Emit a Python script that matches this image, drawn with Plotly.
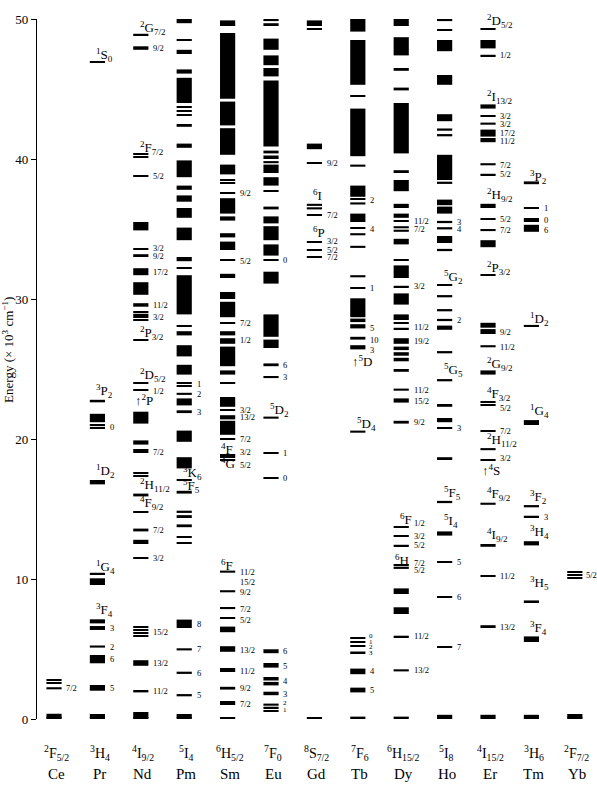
import plotly.graph_objects as go

elements = ["Ce", "Pr", "Nd", "Pm", "Sm", "Eu", "Gd", "Tb", "Dy", "Ho", "Er", "Tm", "Yb"]
ground_terms = ["<sup>2</sup>F<sub>5/2</sub>", "<sup>3</sup>H<sub>4</sub>", "<sup>4</sup>I<sub>9/2</sub>",
                "<sup>5</sup>I<sub>4</sub>", "<sup>6</sup>H<sub>5/2</sub>", "<sup>7</sup>F<sub>0</sub>",
                "<sup>8</sup>S<sub>7/2</sub>", "<sup>7</sup>F<sub>6</sub>", "<sup>6</sup>H<sub>15/2</sub>",
                "<sup>5</sup>I<sub>8</sub>", "<sup>4</sup>I<sub>15/2</sub>", "<sup>3</sup>H<sub>6</sub>",
                "<sup>2</sup>F<sub>7/2</sub>"]
y_ticks = [0, 10, 20, 30, 40, 50]

# energy levels (10^3 cm^-1): bands (low, high) and single sharp levels
ce_bands = [(2.12, 2.27)]
ce_lines = [2.8, 2.6, 0.0, 0.17, 0.33]

pr_bands = [(22.62, 22.8), (21.2, 21.8), (16.76, 17.07), (9.57, 10.05), (6.83, 7.12), (6.36, 6.64),
            (5.1, 5.25), (3.98, 4.57), (2.02, 2.43)]
pr_lines = [46.95, 21.0, 20.82, 10.4, 0.0, 0.14, 0.28]

nd_bands = [(47.8, 48.05), (34.9, 35.5), (33.0, 33.2), (31.7, 32.2), (30.3, 31.2), (29.45, 29.7),
            (21.1, 21.95), (19.6, 19.9), (15.9, 16.1), (13.4, 13.6), (12.5, 12.8), (3.8, 4.2), (1.9, 2.07)]
nd_lines = [48.9, 40.36, 40.17, 38.8, 33.6, 29.1, 28.9, 28.7, 28.5, 27.07, 24.0, 23.5, 19.2, 19.05,
            17.55, 17.35, 14.8, 11.5, 6.55, 6.35, 6.15, 5.95, 0.0, 0.14, 0.28, 0.42]

pm_bands = [(49.7, 50.0), (47.5, 47.8), (46.1, 46.4), (44.0, 45.8), (42.3, 42.5), (40.8, 41.1),
            (38.7, 39.9), (37.8, 38.1), (36.95, 37.4), (35.8, 36.5), (34.2, 35.1), (32.7, 33.0),
            (28.9, 31.7), (27.4, 27.7), (25.9, 26.7), (24.6, 25.3), (23.15, 23.3), (22.4, 22.9),
            (21.85, 22.05), (19.8, 20.6), (17.9, 18.7), (16.1, 16.3), (14.72, 14.88), (14.42, 14.56),
            (13.7, 13.9), (12.93, 13.07), (6.5, 7.1), (4.9, 5.05), (3.22, 3.38), (1.62, 1.78)]
pm_lines = [48.5, 43.7, 43.45, 43.15, 32.2, 28.1, 24.0, 23.8, 17.07, 12.55, 0.0, 0.14, 0.28]

sm_bands = [(49.5, 49.9), (44.3, 49.0), (42.4, 44.1), (40.3, 42.2), (38.9, 39.6), (36.1, 37.2),
            (35.6, 35.9), (34.4, 34.7), (33.5, 34.1), (31.5, 31.8), (30.0, 30.5), (28.7, 29.8),
            (27.4, 27.7), (26.8, 27.2), (25.2, 26.6), (24.6, 24.9), (22.3, 23.0), (21.4, 21.7),
            (20.3, 21.3), (10.45, 10.6), (9.05, 9.2), (7.85, 8.0), (6.2, 6.6), (4.8, 5.2), (2.1, 2.3)]
sm_lines = [38.5, 38.3, 37.6, 32.8, 28.3, 24.0, 22.07, 20.0, 18.86, 18.69, 18.5, 7.2, 3.6, 3.42,
            1.24, 1.05, 0.0]

eu_bands = [(49.85, 50.0), (49.5, 49.7), (47.8, 48.6), (46.7, 47.4), (45.9, 46.5), (40.9, 45.6),
            (40.4, 40.6), (40.0, 40.25), (39.7, 39.85), (39.0, 39.6), (38.1, 38.7), (36.4, 36.6),
            (35.4, 35.9), (34.2, 35.2), (33.1, 33.9), (31.1, 31.95), (27.3, 28.9), (26.5, 27.1),
            (25.2, 25.4), (24.35, 24.5), (21.45, 21.6), (4.7, 4.98), (3.67, 4.0), (2.75, 3.0),
            (2.4, 2.65), (1.7, 1.95), (0.95, 1.1)]
eu_lines = [37.7, 32.8, 19.0, 17.2, 0.83, 0.6]

gd_bands = [(49.5, 49.9), (40.7, 41.1), (36.65, 36.8), (36.4, 36.55)]
gd_lines = [49.3, 39.7, 36.0, 34.1, 33.5, 33.0, 0.0]

tb_bands = [(49.1, 50.0), (45.3, 48.5), (40.2, 43.6), (39.45, 39.6), (37.3, 38.1), (36.75, 36.9),
            (35.5, 36.1), (34.55, 34.7), (33.65, 33.8), (31.55, 31.7), (28.7, 30.05), (28.35, 28.6),
            (27.9, 28.2), (27.1, 27.3), (26.4, 26.7), (20.45, 20.6), (4.68, 4.82), (3.2, 3.6),
            (1.9, 2.24), (0.0, 0.17)]
tb_lines = [44.5, 37.15, 35.05, 30.8, 5.8, 5.5, 5.2]

dy_bands = [(49.5, 50.0), (47.4, 48.7), (46.3, 46.5), (44.9, 45.1), (40.4, 44.0), (39.0, 39.2),
            (37.7, 38.5), (36.5, 36.8), (35.8, 36.1), (35.05, 35.2), (34.8, 34.95), (33.9, 34.3),
            (31.5, 32.4), (29.6, 30.4), (28.5, 28.9), (26.8, 27.2), (26.35, 26.6), (25.95, 26.2),
            (25.55, 25.8), (24.8, 25.0), (23.45, 23.6), (22.6, 22.9), (21.1, 21.3), (10.72, 10.88),
            (8.93, 9.33), (7.5, 7.98), (5.82, 5.95), (3.4, 3.55), (0.0, 0.17)]
dy_lines = [35.6, 32.8, 30.9, 28.3, 27.9, 13.7, 13.1, 12.4, 11.0]

ho_bands = [(49.85, 50.0), (47.7, 48.5), (45.3, 46.0), (42.7, 43.2), (42.02, 42.18), (41.62, 41.78),
            (38.5, 40.3), (38.22, 38.38), (36.7, 37.1), (36.1, 36.6), (35.42, 35.58), (34.97, 35.13),
            (34.0, 34.5), (33.42, 33.58), (30.12, 30.28), (29.12, 29.28), (28.42, 28.58), (27.8, 28.1),
            (26.12, 26.28), (24.12, 24.28), (22.3, 22.5), (21.2, 21.5), (18.5, 18.7), (15.42, 15.58),
            (13.1, 13.4), (0.0, 0.3)]
ho_lines = [49.2, 31.0, 20.8, 11.2, 8.7, 5.17]

er_bands = [(47.9, 48.5), (43.6, 43.9), (42.45, 42.6), (41.6, 42.1), (41.2, 41.5), (39.55, 39.7),
            (36.5, 36.8), (34.85, 35.0), (33.7, 34.2), (27.95, 28.3), (27.5, 27.85), (26.55, 26.7),
            (24.6, 24.9), (19.2, 19.35), (15.3, 15.45), (12.3, 12.5), (6.5, 6.7), (0.0, 0.3)]
er_lines = [49.3, 47.4, 43.1, 38.9, 35.7, 31.7, 22.67, 22.43, 20.6, 18.5, 10.2]

tm_bands = [(38.2, 38.4), (34.8, 35.3), (28.0, 28.15), (21.0, 21.35), (15.12, 15.28), (14.38, 14.52),
            (12.4, 12.7), (8.33, 8.47), (5.5, 5.9), (0.0, 0.3)]
tm_lines = [36.5, 35.72, 35.56]

yb_bands = []
yb_lines = [10.5, 10.3, 10.1, 0.0, 0.15, 0.3]

all_bands = [ce_bands, pr_bands, nd_bands, pm_bands, sm_bands, eu_bands, gd_bands, tb_bands,
             dy_bands, ho_bands, er_bands, tm_bands, yb_bands]
all_lines = [ce_lines, pr_lines, nd_lines, pm_lines, sm_lines, eu_lines, gd_lines, tb_lines,
             dy_lines, ho_lines, er_lines, tm_lines, yb_lines]

# term labels sitting above a level: (element index, energy, text)
term_above = [
    (1, 46.8, "<sup>1</sup>S<sub>0</sub>"), (1, 22.8, "<sup>3</sup>P<sub>2</sub>"),
    (1, 17.07, "<sup>1</sup>D<sub>2</sub>"), (1, 10.2, "<sup>1</sup>G<sub>4</sub>"),
    (1, 7.12, "<sup>3</sup>F<sub>4</sub>"),
    (2, 48.75, "<sup>2</sup>G<sub>7/2</sub>"), (2, 40.15, "<sup>2</sup>F<sub>7/2</sub>"),
    (2, 26.95, "<sup>2</sup>P<sub>3/2</sub>"), (2, 23.9, "<sup>2</sup>D<sub>5/2</sub>"),
    (2, 16.1, "<sup>2</sup>H<sub>11/2</sub>"), (2, 14.8, "<sup>4</sup>F<sub>9/2</sub>"),
    (3, 16.95, "<sup>3</sup>K<sub>6</sub>"), (3, 16.0, "<sup>5</sup>F<sub>5</sub>"),
    (5, 21.4, "<sup>5</sup>D<sub>2</sub>"),
    (6, 36.85, "<sup>6</sup>I"), (6, 34.2, "<sup>6</sup>P"),
    (7, 20.4, "<sup>5</sup>D<sub>4</sub>"),
    (8, 13.7, "<sup>6</sup>F"),
    (9, 30.9, "<sup>5</sup>G<sub>2</sub>"), (9, 24.3, "<sup>5</sup>G<sub>5</sub>"),
    (9, 15.5, "<sup>5</sup>F<sub>5</sub>"), (9, 13.5, "<sup>5</sup>I<sub>4</sub>"),
    (10, 49.2, "<sup>2</sup>D<sub>5/2</sub>"), (10, 43.8, "<sup>2</sup>I<sub>13/2</sub>"),
    (10, 36.8, "<sup>2</sup>H<sub>9/2</sub>"), (10, 31.6, "<sup>2</sup>P<sub>3/2</sub>"),
    (10, 24.7, "<sup>2</sup>G<sub>9/2</sub>"), (10, 22.6, "<sup>4</sup>F<sub>3/2</sub>"),
    (10, 19.3, "<sup>2</sup>H<sub>11/2</sub>"), (10, 15.4, "<sup>4</sup>F<sub>9/2</sub>"),
    (10, 12.5, "<sup>4</sup>I<sub>9/2</sub>"),
    (11, 38.1, "<sup>3</sup>P<sub>2</sub>"), (11, 27.95, "<sup>1</sup>D<sub>2</sub>"),
    (11, 21.35, "<sup>1</sup>G<sub>4</sub>"), (11, 15.2, "<sup>3</sup>F<sub>2</sub>"),
    (11, 12.7, "<sup>3</sup>H<sub>4</sub>"), (11, 9.1, "<sup>3</sup>H<sub>5</sub>"),
    (11, 5.85, "<sup>3</sup>F<sub>4</sub>"),
]
# term labels above a level, starting at the left edge of the column
term_above_left = [(4, 10.45, "<sup>6</sup>F"), (8, 10.8, "<sup>6</sup>H")]
# term labels hanging below a level
term_below = [
    (2, 23.45, "↑<sup>2</sup>P"), (4, 19.95, "<sup>4</sup>F"), (4, 18.9, "<sup>4</sup>G"),
    (7, 26.25, "↑<sup>5</sup>D"), (10, 18.45, "↑<sup>4</sup>S"),
]
# small J labels to the right of a level
j_labels = [
    (0, 2.2, "7/2"),
    (1, 20.85, "0"), (1, 6.5, "3"), (1, 5.17, "2"), (1, 4.3, "6"), (1, 2.2, "5"),
    (2, 47.9, "9/2"), (2, 38.8, "5/2"), (2, 33.65, "3/2"), (2, 33.05, "9/2"), (2, 31.9, "17/2"),
    (2, 29.55, "11/2"), (2, 28.7, "3/2"), (2, 23.4, "1/2"), (2, 19.1, "7/2"), (2, 13.5, "7/2"),
    (2, 11.5, "3/2"), (2, 6.25, "15/2"), (2, 4.0, "13/2"), (2, 2.0, "11/2"),
    (3, 23.9, "1"), (3, 23.2, "2"), (3, 21.95, "3"), (3, 6.8, "8"), (3, 5.0, "7"), (3, 3.3, "6"),
    (3, 1.7, "5"),
    (4, 37.6, "9/2"), (4, 32.75, "5/2"), (4, 28.3, "7/2"), (4, 27.05, "1/2"), (4, 22.07, "3/2"),
    (4, 21.55, "13/2"), (4, 20.0, "7/2"), (4, 19.05, "3/2"), (4, 18.15, "5/2"), (4, 10.5, "11/2"),
    (4, 9.8, "15/2"), (4, 9.05, "9/2"), (4, 7.85, "7/2"), (4, 7.1, "5/2"), (4, 4.9, "13/2"),
    (4, 3.45, "11/2"), (4, 2.2, "9/2"), (4, 1.05, "7/2"),
    (5, 32.8, "0"), (5, 25.3, "6"), (5, 24.4, "3"), (5, 19.0, "1"), (5, 17.2, "0"), (5, 4.85, "6"),
    (5, 3.8, "5"), (5, 2.7, "4"), (5, 1.8, "3"),
    (6, 39.7, "9/2"), (6, 36.0, "7/2"), (6, 34.15, "3/2"), (6, 33.5, "5/2"), (6, 33.0, "7/2"),
    (7, 37.1, "2"), (7, 35.0, "4"), (7, 30.8, "1"), (7, 27.9, "5"), (7, 27.1, "10"), (7, 26.35, "3"),
    (7, 3.4, "4"), (7, 2.05, "5"),
    (8, 35.6, "11/2"), (8, 35.0, "7/2"), (8, 30.9, "3/2"), (8, 28.0, "11/2"), (8, 27.0, "19/2"),
    (8, 23.5, "11/2"), (8, 22.75, "15/2"), (8, 21.2, "9/2"), (8, 14.0, "1/2"), (8, 13.1, "3/2"),
    (8, 12.4, "5/2"), (8, 11.15, "7/2"), (8, 10.65, "5/2"), (8, 5.9, "11/2"), (8, 3.5, "13/2"),
    (9, 35.5, "3"), (9, 35.0, "4"), (9, 28.5, "2"), (9, 20.8, "3"), (9, 11.2, "5"), (9, 8.7, "6"),
    (9, 5.17, "7"),
    (10, 47.4, "1/2"), (10, 43.1, "3/2"), (10, 42.5, "3/2"), (10, 41.85, "17/2"), (10, 41.3, "11/2"),
    (10, 39.6, "7/2"), (10, 38.9, "5/2"), (10, 35.7, "5/2"), (10, 34.9, "7/2"), (10, 27.65, "9/2"),
    (10, 26.6, "11/2"), (10, 22.2, "5/2"), (10, 20.6, "7/2"), (10, 18.65, "3/2"), (10, 10.2, "11/2"),
    (10, 6.6, "13/2"),
    (11, 36.5, "1"), (11, 35.65, "0"), (11, 34.95, "6"), (11, 14.45, "3"),
]
# J labels close to the right edge of the column (last column)
j_labels_edge = [(12, 10.3, "5/2")]
# tightly stacked J labels
j_labels_tight = [(7, 5.95, "0"), (7, 5.53, "1"), (7, 5.12, "2"), (7, 4.7, "3"),
                  (5, 1.15, "2"), (5, 0.62, "1")]

SERIF = "Liberation Serif, Times New Roman, serif"
LINE_T = 0.09
BAR_W = 0.35

xs, bases, heights = [], [], []
for i, (bands, lines) in enumerate(zip(all_bands, all_lines)):
    for lo, hi in bands:
        xs.append(i); bases.append(lo); heights.append(hi - lo)
    for e in lines:
        xs.append(i); bases.append(max(e - LINE_T / 2, 0.0)); heights.append(LINE_T)

fig = go.Figure(go.Bar(x=xs, y=heights, base=bases, width=BAR_W,
                       marker=dict(color="black", line=dict(width=0)),
                       hoverinfo="skip", showlegend=False))


def font(size):
    return dict(family=SERIF, size=size, color="black")


ann = []
for i, e, t in term_above:
    ann.append(dict(x=i - 0.07, y=e, text=t, xanchor="left", yanchor="bottom", yshift=-2,
                    showarrow=False, font=font(13)))
for i, e, t in term_above_left:
    ann.append(dict(x=i - 0.2, y=e, text=t, xanchor="left", yanchor="bottom", yshift=-2,
                    showarrow=False, font=font(13)))
for i, e, t in term_below:
    ann.append(dict(x=i - 0.19, y=e, text=t, xanchor="left", yanchor="top", yshift=1,
                    showarrow=False, font=font(13)))
for i, e, t in j_labels:
    ann.append(dict(x=i + 0.24, y=e, text=t, xanchor="left", yanchor="middle",
                    showarrow=False, font=font(8.5)))
for i, e, t in j_labels_edge:
    ann.append(dict(x=i + 0.2, y=e, text=t, xanchor="left", yanchor="middle",
                    showarrow=False, font=font(8.5)))
for i, e, t in j_labels_tight:
    ann.append(dict(x=i + 0.22, y=e, text=t, xanchor="left", yanchor="middle",
                    showarrow=False, font=font(7)))
for i, (el, gt) in enumerate(zip(elements, ground_terms)):
    ann.append(dict(x=i + 0.05, y=-0.049, xref="x", yref="paper", text=gt, xanchor="center",
                    yanchor="middle", showarrow=False, font=font(14)))
    ann.append(dict(x=i + 0.05, y=-0.078, xref="x", yref="paper", text=el, xanchor="center",
                    yanchor="middle", showarrow=False, font=font(15)))
ann.append(dict(x=-0.052, y=0.5 + (369 - 350) / 700, xref="paper", yref="paper",
                text="Energy (× 10<sup>3</sup> cm<sup>−1</sup>)", textangle=-90,
                xanchor="center", yanchor="middle", showarrow=False, font=font(13)))

fig.update_layout(
    width=597, height=804, margin=dict(l=37, r=0, t=19, b=85),
    paper_bgcolor="white", plot_bgcolor="white", barmode="overlay",
    xaxis=dict(range=[-0.392, 12.511], visible=False, fixedrange=True),
    yaxis=dict(range=[0, 50], tickvals=y_ticks, ticks="outside", ticklen=5, tickwidth=1.2,
               tickcolor="black", showline=True, linecolor="black", linewidth=1.3,
               showgrid=False, zeroline=False, tickfont=font(13), fixedrange=True),
    annotations=ann,
)
fig.write_html("out.html")
